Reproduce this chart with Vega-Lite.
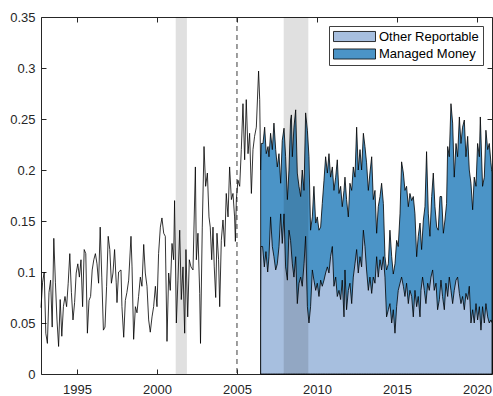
{
  "$schema": "https://vega.github.io/schema/vega-lite/v6.json",
  "width": 451,
  "height": 357,
  "autosize": {"type": "none"},
  "padding": {"left": 41, "top": 17, "right": 1, "bottom": 22},
  "background": "white",
  "config": {
    "view": {"stroke": "#262626", "strokeWidth": 1},
    "axis": {
      "labelFont": "Liberation Sans",
      "labelFontSize": 13,
      "labelColor": "#262626",
      "tickColor": "#262626",
      "tickSize": -5,
      "grid": false,
      "domain": false,
      "title": null
    }
  },
  "datasets": {
    "combined": [
      {"year": 1992.75, "value": 0.065}, {"year": 1992.85, "value": 0.09}, {"year": 1992.95, "value": 0.1},
      {"year": 1993.05, "value": 0.04}, {"year": 1993.15, "value": 0.03}, {"year": 1993.25, "value": 0.08},
      {"year": 1993.35, "value": 0.092}, {"year": 1993.45, "value": 0.046}, {"year": 1993.55, "value": 0.133},
      {"year": 1993.65, "value": 0.09}, {"year": 1993.75, "value": 0.053}, {"year": 1993.85, "value": 0.027},
      {"year": 1993.95, "value": 0.073}, {"year": 1994.05, "value": 0.037}, {"year": 1994.15, "value": 0.066},
      {"year": 1994.25, "value": 0.076}, {"year": 1994.35, "value": 0.066}, {"year": 1994.45, "value": 0.089},
      {"year": 1994.55, "value": 0.118}, {"year": 1994.65, "value": 0.08}, {"year": 1994.75, "value": 0.053},
      {"year": 1994.85, "value": 0.07}, {"year": 1994.95, "value": 0.099}, {"year": 1995.05, "value": 0.108},
      {"year": 1995.15, "value": 0.095}, {"year": 1995.25, "value": 0.112}, {"year": 1995.35, "value": 0.066},
      {"year": 1995.45, "value": 0.122}, {"year": 1995.55, "value": 0.118}, {"year": 1995.65, "value": 0.04},
      {"year": 1995.75, "value": 0.072}, {"year": 1995.85, "value": 0.076}, {"year": 1995.95, "value": 0.102},
      {"year": 1996.05, "value": 0.112}, {"year": 1996.15, "value": 0.118}, {"year": 1996.25, "value": 0.108},
      {"year": 1996.35, "value": 0.089}, {"year": 1996.45, "value": 0.144}, {"year": 1996.55, "value": 0.095},
      {"year": 1996.65, "value": 0.043}, {"year": 1996.75, "value": 0.046}, {"year": 1996.85, "value": 0.086},
      {"year": 1996.95, "value": 0.135}, {"year": 1997.05, "value": 0.122}, {"year": 1997.15, "value": 0.089},
      {"year": 1997.25, "value": 0.099}, {"year": 1997.35, "value": 0.122}, {"year": 1997.45, "value": 0.09},
      {"year": 1997.5, "value": 0.07}, {"year": 1997.6, "value": 0.1}, {"year": 1997.75, "value": 0.102},
      {"year": 1997.81, "value": 0.066}, {"year": 1997.92, "value": 0.036}, {"year": 1998.02, "value": 0.072},
      {"year": 1998.12, "value": 0.08}, {"year": 1998.23, "value": 0.092}, {"year": 1998.375, "value": 0.135},
      {"year": 1998.44, "value": 0.105}, {"year": 1998.54, "value": 0.034}, {"year": 1998.65, "value": 0.066},
      {"year": 1998.75, "value": 0.06}, {"year": 1998.85, "value": 0.076}, {"year": 1998.96, "value": 0.095},
      {"year": 1999.06, "value": 0.086}, {"year": 1999.17, "value": 0.127}, {"year": 1999.27, "value": 0.099},
      {"year": 1999.375, "value": 0.086}, {"year": 1999.48, "value": 0.053}, {"year": 1999.58, "value": 0.041},
      {"year": 1999.69, "value": 0.056}, {"year": 1999.79, "value": 0.066}, {"year": 1999.9, "value": 0.086},
      {"year": 2000.0, "value": 0.066}, {"year": 2000.1, "value": 0.118}, {"year": 2000.21, "value": 0.144},
      {"year": 2000.31, "value": 0.153}, {"year": 2000.42, "value": 0.138}, {"year": 2000.52, "value": 0.135},
      {"year": 2000.625, "value": 0.032}, {"year": 2000.73, "value": 0.099}, {"year": 2000.83, "value": 0.082},
      {"year": 2000.94, "value": 0.128}, {"year": 2001.04, "value": 0.112}, {"year": 2001.1, "value": 0.17},
      {"year": 2001.21, "value": 0.05}, {"year": 2001.31, "value": 0.092}, {"year": 2001.42, "value": 0.141},
      {"year": 2001.52, "value": 0.073}, {"year": 2001.625, "value": 0.105}, {"year": 2001.73, "value": 0.04},
      {"year": 2001.81, "value": 0.122}, {"year": 2001.92, "value": 0.056}, {"year": 2002.02, "value": 0.112},
      {"year": 2002.125, "value": 0.105}, {"year": 2002.25, "value": 0.102}, {"year": 2002.4, "value": 0.203},
      {"year": 2002.46, "value": 0.112}, {"year": 2002.56, "value": 0.138}, {"year": 2002.67, "value": 0.079},
      {"year": 2002.72, "value": 0.03}, {"year": 2002.83, "value": 0.144}, {"year": 2002.94, "value": 0.223},
      {"year": 2003.04, "value": 0.184}, {"year": 2003.15, "value": 0.197}, {"year": 2003.25, "value": 0.154},
      {"year": 2003.33, "value": 0.144}, {"year": 2003.42, "value": 0.112}, {"year": 2003.5, "value": 0.144},
      {"year": 2003.58, "value": 0.105}, {"year": 2003.67, "value": 0.075}, {"year": 2003.75, "value": 0.138},
      {"year": 2003.85, "value": 0.112}, {"year": 2003.92, "value": 0.066}, {"year": 2004.02, "value": 0.131},
      {"year": 2004.125, "value": 0.151}, {"year": 2004.23, "value": 0.125}, {"year": 2004.33, "value": 0.177},
      {"year": 2004.44, "value": 0.154}, {"year": 2004.54, "value": 0.203}, {"year": 2004.65, "value": 0.171},
      {"year": 2004.75, "value": 0.177}, {"year": 2004.85, "value": 0.154}, {"year": 2004.9, "value": 0.13},
      {"year": 2004.96, "value": 0.171}, {"year": 2005.06, "value": 0.19}, {"year": 2005.17, "value": 0.184},
      {"year": 2005.27, "value": 0.22}, {"year": 2005.375, "value": 0.265}, {"year": 2005.48, "value": 0.21},
      {"year": 2005.58, "value": 0.269}, {"year": 2005.69, "value": 0.216}, {"year": 2005.79, "value": 0.236},
      {"year": 2005.9, "value": 0.177}, {"year": 2006.0, "value": 0.22}, {"year": 2006.1, "value": 0.233},
      {"year": 2006.21, "value": 0.242}, {"year": 2006.35, "value": 0.297}, {"year": 2006.42, "value": 0.269},
      {"year": 2006.48, "value": 0.2}, {"year": 2006.52, "value": 0.226}, {"year": 2006.625, "value": 0.226},
      {"year": 2006.73, "value": 0.242}, {"year": 2006.83, "value": 0.216}, {"year": 2006.94, "value": 0.223},
      {"year": 2007.0, "value": 0.213}, {"year": 2007.1, "value": 0.236}, {"year": 2007.21, "value": 0.22},
      {"year": 2007.31, "value": 0.246}, {"year": 2007.42, "value": 0.22}, {"year": 2007.52, "value": 0.203},
      {"year": 2007.625, "value": 0.216}, {"year": 2007.73, "value": 0.187}, {"year": 2007.83, "value": 0.229},
      {"year": 2007.94, "value": 0.241}, {"year": 2008.04, "value": 0.213}, {"year": 2008.15, "value": 0.171},
      {"year": 2008.25, "value": 0.2}, {"year": 2008.35, "value": 0.249}, {"year": 2008.4, "value": 0.254},
      {"year": 2008.46, "value": 0.213}, {"year": 2008.56, "value": 0.242}, {"year": 2008.67, "value": 0.259},
      {"year": 2008.77, "value": 0.197}, {"year": 2008.875, "value": 0.184}, {"year": 2008.98, "value": 0.174},
      {"year": 2009.08, "value": 0.2}, {"year": 2009.19, "value": 0.18}, {"year": 2009.29, "value": 0.256},
      {"year": 2009.4, "value": 0.239}, {"year": 2009.5, "value": 0.213}, {"year": 2009.6, "value": 0.141},
      {"year": 2009.71, "value": 0.154}, {"year": 2009.81, "value": 0.184}, {"year": 2009.92, "value": 0.148},
      {"year": 2010.02, "value": 0.154}, {"year": 2010.125, "value": 0.141}, {"year": 2010.23, "value": 0.144},
      {"year": 2010.33, "value": 0.167}, {"year": 2010.44, "value": 0.19}, {"year": 2010.54, "value": 0.213},
      {"year": 2010.65, "value": 0.197}, {"year": 2010.75, "value": 0.216}, {"year": 2010.85, "value": 0.193},
      {"year": 2010.96, "value": 0.203}, {"year": 2011.06, "value": 0.18}, {"year": 2011.17, "value": 0.193},
      {"year": 2011.27, "value": 0.21}, {"year": 2011.375, "value": 0.177}, {"year": 2011.48, "value": 0.184},
      {"year": 2011.58, "value": 0.164}, {"year": 2011.69, "value": 0.18}, {"year": 2011.75, "value": 0.193},
      {"year": 2011.85, "value": 0.171}, {"year": 2011.96, "value": 0.154}, {"year": 2012.06, "value": 0.187},
      {"year": 2012.17, "value": 0.18}, {"year": 2012.27, "value": 0.203}, {"year": 2012.375, "value": 0.193},
      {"year": 2012.48, "value": 0.242}, {"year": 2012.58, "value": 0.2}, {"year": 2012.69, "value": 0.22},
      {"year": 2012.79, "value": 0.2}, {"year": 2012.9, "value": 0.236}, {"year": 2013.0, "value": 0.223},
      {"year": 2013.1, "value": 0.207}, {"year": 2013.21, "value": 0.18}, {"year": 2013.31, "value": 0.197},
      {"year": 2013.42, "value": 0.213}, {"year": 2013.52, "value": 0.171}, {"year": 2013.625, "value": 0.18},
      {"year": 2013.73, "value": 0.138}, {"year": 2013.83, "value": 0.164}, {"year": 2013.94, "value": 0.174},
      {"year": 2014.04, "value": 0.187}, {"year": 2014.15, "value": 0.167}, {"year": 2014.25, "value": 0.115},
      {"year": 2014.35, "value": 0.102}, {"year": 2014.46, "value": 0.108}, {"year": 2014.56, "value": 0.141},
      {"year": 2014.67, "value": 0.115}, {"year": 2014.77, "value": 0.098}, {"year": 2014.875, "value": 0.108},
      {"year": 2014.98, "value": 0.131}, {"year": 2015.08, "value": 0.125}, {"year": 2015.19, "value": 0.157},
      {"year": 2015.29, "value": 0.208}, {"year": 2015.4, "value": 0.197}, {"year": 2015.5, "value": 0.18},
      {"year": 2015.6, "value": 0.184}, {"year": 2015.71, "value": 0.164}, {"year": 2015.81, "value": 0.177},
      {"year": 2015.92, "value": 0.17}, {"year": 2016.02, "value": 0.174}, {"year": 2016.125, "value": 0.157},
      {"year": 2016.23, "value": 0.115}, {"year": 2016.33, "value": 0.135}, {"year": 2016.44, "value": 0.148},
      {"year": 2016.54, "value": 0.122}, {"year": 2016.65, "value": 0.151}, {"year": 2016.75, "value": 0.164},
      {"year": 2016.85, "value": 0.218}, {"year": 2016.96, "value": 0.157}, {"year": 2017.06, "value": 0.135},
      {"year": 2017.17, "value": 0.174}, {"year": 2017.27, "value": 0.197}, {"year": 2017.375, "value": 0.164},
      {"year": 2017.48, "value": 0.144}, {"year": 2017.58, "value": 0.141}, {"year": 2017.69, "value": 0.174},
      {"year": 2017.79, "value": 0.174}, {"year": 2017.9, "value": 0.138}, {"year": 2018.0, "value": 0.151},
      {"year": 2018.1, "value": 0.167}, {"year": 2018.17, "value": 0.223}, {"year": 2018.27, "value": 0.213},
      {"year": 2018.375, "value": 0.265}, {"year": 2018.48, "value": 0.246}, {"year": 2018.58, "value": 0.193},
      {"year": 2018.69, "value": 0.226}, {"year": 2018.79, "value": 0.213}, {"year": 2018.9, "value": 0.252},
      {"year": 2019.0, "value": 0.226}, {"year": 2019.1, "value": 0.242}, {"year": 2019.21, "value": 0.249},
      {"year": 2019.31, "value": 0.213}, {"year": 2019.42, "value": 0.233}, {"year": 2019.52, "value": 0.2},
      {"year": 2019.625, "value": 0.187}, {"year": 2019.73, "value": 0.161}, {"year": 2019.83, "value": 0.193},
      {"year": 2019.94, "value": 0.184}, {"year": 2020.04, "value": 0.226}, {"year": 2020.15, "value": 0.213},
      {"year": 2020.21, "value": 0.252}, {"year": 2020.35, "value": 0.184}, {"year": 2020.46, "value": 0.193},
      {"year": 2020.56, "value": 0.239}, {"year": 2020.67, "value": 0.22}, {"year": 2020.77, "value": 0.226},
      {"year": 2020.875, "value": 0.207}, {"year": 2020.94, "value": 0.197}
    ],
    "other": [
      {"year": 2006.48, "value": 0.05}, {"year": 2006.5, "value": 0.125}, {"year": 2006.6, "value": 0.125},
      {"year": 2006.71, "value": 0.105}, {"year": 2006.81, "value": 0.12}, {"year": 2006.92, "value": 0.1},
      {"year": 2007.0, "value": 0.115}, {"year": 2007.1, "value": 0.154}, {"year": 2007.21, "value": 0.125},
      {"year": 2007.31, "value": 0.115}, {"year": 2007.42, "value": 0.102}, {"year": 2007.52, "value": 0.108},
      {"year": 2007.625, "value": 0.125}, {"year": 2007.73, "value": 0.157}, {"year": 2007.83, "value": 0.128},
      {"year": 2007.94, "value": 0.157}, {"year": 2008.04, "value": 0.105}, {"year": 2008.15, "value": 0.092},
      {"year": 2008.25, "value": 0.141}, {"year": 2008.35, "value": 0.131}, {"year": 2008.46, "value": 0.108},
      {"year": 2008.56, "value": 0.095}, {"year": 2008.67, "value": 0.115}, {"year": 2008.77, "value": 0.069},
      {"year": 2008.875, "value": 0.089}, {"year": 2008.98, "value": 0.095}, {"year": 2009.08, "value": 0.086},
      {"year": 2009.19, "value": 0.108}, {"year": 2009.29, "value": 0.135}, {"year": 2009.4, "value": 0.066},
      {"year": 2009.5, "value": 0.05}, {"year": 2009.6, "value": 0.066}, {"year": 2009.71, "value": 0.102},
      {"year": 2009.81, "value": 0.092}, {"year": 2009.92, "value": 0.082}, {"year": 2010.02, "value": 0.089},
      {"year": 2010.125, "value": 0.076}, {"year": 2010.23, "value": 0.092}, {"year": 2010.33, "value": 0.086},
      {"year": 2010.44, "value": 0.092}, {"year": 2010.54, "value": 0.099}, {"year": 2010.65, "value": 0.105},
      {"year": 2010.75, "value": 0.099}, {"year": 2010.85, "value": 0.115}, {"year": 2010.96, "value": 0.125},
      {"year": 2011.06, "value": 0.086}, {"year": 2011.17, "value": 0.095}, {"year": 2011.27, "value": 0.076},
      {"year": 2011.375, "value": 0.082}, {"year": 2011.48, "value": 0.073}, {"year": 2011.58, "value": 0.092},
      {"year": 2011.69, "value": 0.056}, {"year": 2011.75, "value": 0.102}, {"year": 2011.85, "value": 0.063},
      {"year": 2011.96, "value": 0.082}, {"year": 2012.06, "value": 0.089}, {"year": 2012.17, "value": 0.069},
      {"year": 2012.27, "value": 0.095}, {"year": 2012.375, "value": 0.108}, {"year": 2012.48, "value": 0.122},
      {"year": 2012.58, "value": 0.099}, {"year": 2012.69, "value": 0.115}, {"year": 2012.79, "value": 0.105},
      {"year": 2012.9, "value": 0.141}, {"year": 2013.0, "value": 0.125}, {"year": 2013.1, "value": 0.102},
      {"year": 2013.21, "value": 0.082}, {"year": 2013.31, "value": 0.095}, {"year": 2013.42, "value": 0.079},
      {"year": 2013.52, "value": 0.095}, {"year": 2013.625, "value": 0.089}, {"year": 2013.73, "value": 0.115},
      {"year": 2013.83, "value": 0.095}, {"year": 2013.94, "value": 0.112}, {"year": 2014.04, "value": 0.102},
      {"year": 2014.15, "value": 0.115}, {"year": 2014.25, "value": 0.095}, {"year": 2014.35, "value": 0.056},
      {"year": 2014.46, "value": 0.063}, {"year": 2014.56, "value": 0.069}, {"year": 2014.67, "value": 0.05},
      {"year": 2014.77, "value": 0.063}, {"year": 2014.875, "value": 0.04}, {"year": 2014.98, "value": 0.066},
      {"year": 2015.08, "value": 0.082}, {"year": 2015.19, "value": 0.089}, {"year": 2015.29, "value": 0.095},
      {"year": 2015.4, "value": 0.086}, {"year": 2015.5, "value": 0.076}, {"year": 2015.6, "value": 0.089},
      {"year": 2015.71, "value": 0.069}, {"year": 2015.81, "value": 0.082}, {"year": 2015.92, "value": 0.076},
      {"year": 2016.02, "value": 0.056}, {"year": 2016.125, "value": 0.082}, {"year": 2016.23, "value": 0.066},
      {"year": 2016.33, "value": 0.076}, {"year": 2016.44, "value": 0.056}, {"year": 2016.5, "value": 0.082},
      {"year": 2016.6, "value": 0.095}, {"year": 2016.71, "value": 0.082}, {"year": 2016.81, "value": 0.069},
      {"year": 2016.92, "value": 0.089}, {"year": 2017.02, "value": 0.082}, {"year": 2017.125, "value": 0.095},
      {"year": 2017.23, "value": 0.102}, {"year": 2017.33, "value": 0.082}, {"year": 2017.44, "value": 0.089},
      {"year": 2017.54, "value": 0.063}, {"year": 2017.65, "value": 0.073}, {"year": 2017.75, "value": 0.092},
      {"year": 2017.85, "value": 0.076}, {"year": 2017.96, "value": 0.063}, {"year": 2018.06, "value": 0.089},
      {"year": 2018.17, "value": 0.076}, {"year": 2018.27, "value": 0.095}, {"year": 2018.375, "value": 0.082},
      {"year": 2018.48, "value": 0.069}, {"year": 2018.58, "value": 0.082}, {"year": 2018.69, "value": 0.092},
      {"year": 2018.79, "value": 0.095}, {"year": 2018.9, "value": 0.079}, {"year": 2019.0, "value": 0.069},
      {"year": 2019.1, "value": 0.076}, {"year": 2019.21, "value": 0.063}, {"year": 2019.31, "value": 0.079},
      {"year": 2019.42, "value": 0.073}, {"year": 2019.52, "value": 0.086}, {"year": 2019.625, "value": 0.05},
      {"year": 2019.73, "value": 0.063}, {"year": 2019.83, "value": 0.05}, {"year": 2019.94, "value": 0.069},
      {"year": 2020.04, "value": 0.053}, {"year": 2020.15, "value": 0.066}, {"year": 2020.25, "value": 0.043},
      {"year": 2020.35, "value": 0.066}, {"year": 2020.46, "value": 0.05}, {"year": 2020.56, "value": 0.069},
      {"year": 2020.67, "value": 0.056}, {"year": 2020.77, "value": 0.05}, {"year": 2020.875, "value": 0.053},
      {"year": 2020.94, "value": 0.05}
    ],
    "recessions": [
      {"start": 2001.17, "end": 2001.87},
      {"start": 2007.92, "end": 2009.46}
    ],
    "events": [
      {"year": 2005}
    ]
  },
  "layer": [
    {
      "description": "Managed Money band: fill from the axis up to the combined position",
      "data": {"name": "combined"},
      "transform": [{"filter": "datum.year >= 2006.48"}],
      "mark": {"type": "area", "stroke": "#000000", "strokeWidth": 0.8, "fillOpacity": 1},
      "encoding": {
        "x": {"field": "year", "type": "quantitative",
              "scale": {"domain": [1992.75, 2020.94], "nice": false, "zero": false},
              "axis": {"orient": "bottom", "values": [1995, 2000, 2005, 2010, 2015, 2020], "format": "d", "labelPadding": 14}},
        "y": {"field": "value", "type": "quantitative",
              "scale": {"domain": [0, 0.35], "nice": false},
              "axis": {"orient": "left", "values": [0, 0.05, 0.1, 0.15, 0.2, 0.25, 0.3, 0.35], "format": "~g", "labelPadding": 11}},
        "color": {"datum": "Managed Money", "type": "nominal",
                  "scale": {"domain": ["Other Reportable", "Managed Money"], "range": ["#a7bfdf", "#4b94c7"]},
                  "legend": {
                    "title": null, "orient": "top-right", "offset": 9,
                    "fillColor": "white", "strokeColor": "#404040", "padding": 4,
                    "symbolType": "M-1,-0.24H1V0.24H-1Z", "symbolSize": 1764,
                    "symbolStrokeColor": "#000000", "symbolStrokeWidth": 0.8, "symbolOpacity": 1,
                    "clipHeight": 13,
                    "labelFont": "Liberation Sans", "labelFontSize": 13, "labelColor": "#000000",
                    "labelOffset": 3, "rowPadding": 3.5
                  }}
      }
    },
    {
      "description": "Other Reportable band from zero",
      "data": {"name": "other"},
      "mark": {"type": "area", "stroke": "#000000", "strokeWidth": 0.8, "fillOpacity": 1},
      "encoding": {
        "x": {"field": "year", "type": "quantitative",
              "scale": {"domain": [1992.75, 2020.94], "nice": false, "zero": false}, "axis": null},
        "y": {"field": "value", "type": "quantitative",
              "scale": {"domain": [0, 0.35], "nice": false}, "axis": null},
        "color": {"datum": "Other Reportable", "type": "nominal",
                  "scale": {"domain": ["Other Reportable", "Managed Money"], "range": ["#a7bfdf", "#4b94c7"]}}
      }
    },
    {
      "description": "Recession shading",
      "data": {"name": "recessions"},
      "mark": {"type": "rect", "color": "#000000", "opacity": 0.12},
      "encoding": {
        "x": {"field": "start", "type": "quantitative",
              "scale": {"domain": [1992.75, 2020.94], "nice": false, "zero": false}, "axis": null},
        "x2": {"field": "end"}
      }
    },
    {
      "description": "Dashed marker line",
      "data": {"name": "events"},
      "mark": {"type": "rule", "color": "#262626", "strokeWidth": 0.9, "strokeDash": [5, 4]},
      "encoding": {
        "x": {"field": "year", "type": "quantitative",
              "scale": {"domain": [1992.75, 2020.94], "nice": false, "zero": false}, "axis": null}
      }
    },
    {
      "description": "Combined series before the breakdown starts; carries the top and right tick axes",
      "data": {"name": "combined"},
      "transform": [{"filter": "datum.year <= 2006.48"}],
      "mark": {"type": "line", "color": "#000000", "strokeWidth": 0.8},
      "encoding": {
        "x": {"field": "year", "type": "quantitative",
              "scale": {"domain": [1992.75, 2020.94], "nice": false, "zero": false},
              "axis": {"orient": "top", "values": [1995, 2000, 2005, 2010, 2015, 2020], "labels": false}},
        "y": {"field": "value", "type": "quantitative",
              "scale": {"domain": [0, 0.35], "nice": false},
              "axis": {"orient": "right", "values": [0, 0.05, 0.1, 0.15, 0.2, 0.25, 0.3, 0.35], "labels": false}}
      }
    }
  ],
  "resolve": {"axis": {"x": "independent", "y": "independent"}}
}
